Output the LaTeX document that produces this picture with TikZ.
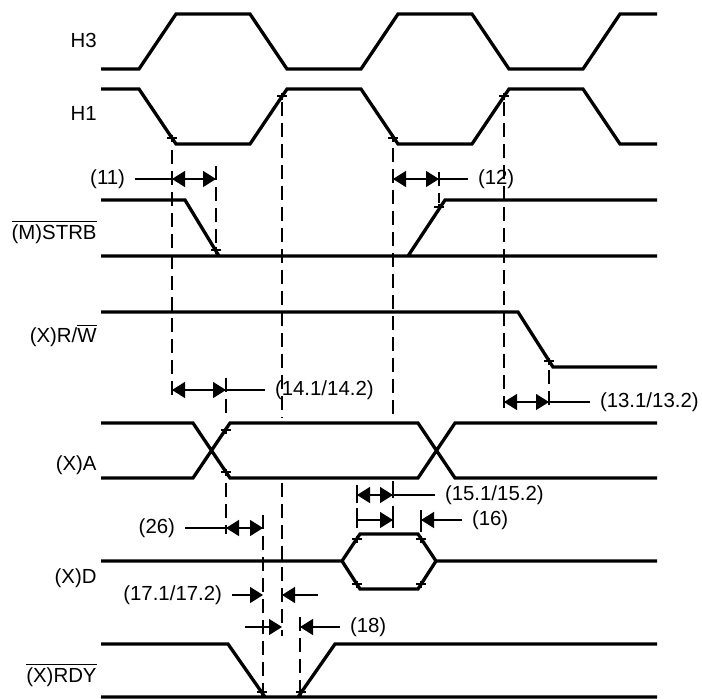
\documentclass[tikz,border=0pt]{standalone}
\usepackage{fontspec}
\setmainfont{Liberation Sans}
\usetikzlibrary{arrows.meta}
\begin{document}
\begin{tikzpicture}[x=.5pt,y=-.5pt,
  wave/.style={line width=1.65pt},
  guide/.style={line width=.95pt,dash pattern=on 7pt off 3.5pt},
  ext/.style={line width=.95pt},
  dim/.style={line width=.7pt},
  tip/.style={-{Triangle[length=6.5pt,width=8pt]}},
  twotip/.style={{Triangle[length=6.5pt,width=8pt]}-{Triangle[length=6.5pt,width=8pt]}},
  crossmark/.style={line width=1.2pt},
  sig/.style={anchor=base east,inner sep=0pt,font=\fontsize{10.2}{12}\selectfont},
  val/.style={inner sep=0pt,outer sep=5pt,font=\fontsize{10.2}{12}\selectfont}]
  \useasboundingbox (0,0) rectangle (702,698);
  % tick points on the edges
  \coordinate (T1) at (172,138); \coordinate (T2) at (282,96); \coordinate (T3) at (393,138); \coordinate (T4) at (504,96); \coordinate (S1) at (216,250); \coordinate (S2) at (439,207); \coordinate (W1) at (549,361);
  \coordinate (A1) at (226,430); \coordinate (A2) at (226,472); \coordinate (D1) at (357,539); \coordinate (D2) at (421,539); \coordinate (D3) at (357,584); \coordinate (D4) at (421,584); \coordinate (R1) at (262,692); \coordinate (R2) at (301,692);
  % waveforms
  \draw[wave] (101,69)--(139,69)--(176,14)--(250,14)--(287,69)--(361,69)--(398,14)--(472,14)--(509,69)--(583,69)--(620,14)--(657,14);
  \draw[wave] (101,89)--(139,89)--(176,144)--(250,144)--(287,89)--(361,89)--(398,144)--(472,144)--(509,89)--(583,89)--(620,144)--(657,144);
  \draw[wave] (101,200)--(185,200)--(219,256) (101,256)--(657,256) (408,256)--(445,200)--(657,200);
  \draw[wave] (101,312)--(518,312)--(553,367)--(657,367);
  \draw[wave] (101,423)--(193,423)--(230,478)--(418,478)--(455,423)--(657,423) (101,478)--(193,478)--(230,423)--(418,423)--(455,478)--(657,478);
  \draw[wave] (101,561)--(342,561)--(360,534)--(418,534)--(436,561)--(657,561) (342,561)--(360,589)--(418,589)--(436,561);
  \draw[wave] (101,644)--(228,644)--(265,697)--(298,697)--(335,644)--(657,644) (101,697)--(657,697);
  \foreach \p in {T1,T2,T3,T4,S1,S2,W1,A1,A2,D1,D2,D3,D4,R1,R2}
    \draw[crossmark] (\p) +(-5,0) -- +(5,0) +(0,-3.5) -- +(0,3.5);
  % dashed guides
  \draw[guide] (172,150)--(172,396) (282,102)--(282,418) (282,483)--(282,636) (216,166)--(216,246) (393,148)--(393,420) (439,172)--(439,203);
  \draw[guide] (504,102)--(504,408) (549,370)--(549,408) (226,378)--(226,420) (226,483)--(226,534) (263,515)--(263,697) (300,617)--(300,697);
  \draw[ext] (357,485)--(357,503) (357,508)--(357,528) (393,481)--(393,498) (393,506)--(393,528) (421,510)--(421,532);
  % signal names
  \node[sig] (nH3) at (97,47) {H3};
  \node[sig] (nH1) at (97,120) {H1};
  \node[sig] (nSTRB) at (97,239) {$\overline{\mbox{(M)STRB}}$};
  \node[sig] (nRW) at (97,342) {(X)R/$\overline{\mbox{W}}$};
  \node[sig] (nA) at (97,470) {(X)A};
  \node[sig] (nD) at (97,583) {(X)D};
  \node[sig] (nRDY) at (97,682) {$\overline{\mbox{(X)RDY}}$};
  % timing parameters
  \node[val,anchor=east] (p11) at (135,179) {(11)};
  \draw[dim] (p11)--(172,179); \draw[dim,twotip] (172,179)--(216,179);
  \node[val,anchor=west] (p12) at (468,179) {(12)};
  \draw[dim,twotip] (393,179)--(439,179); \draw[dim] (439,179)--(p12);
  \node[val,anchor=west] (p14) at (265,390) {(14.1/14.2)};
  \draw[dim,twotip] (172,390)--(226,390); \draw[dim] (226,390)--(p14);
  \node[val,anchor=west] (p13) at (590,402) {(13.1/13.2)};
  \draw[dim,twotip] (504,402)--(549,402); \draw[dim] (549,402)--(p13);
  \node[val,anchor=west] (p15) at (435,495) {(15.1/15.2)};
  \draw[dim,twotip] (357,495)--(393,495); \draw[dim] (393,495)--(p15);
  \node[val,anchor=west] (p16) at (462,520) {(16)};
  \draw[dim,tip] (357,520)--(393,520); \draw[dim,tip] (p16)--(421,520);
  \node[val,anchor=east] (p26) at (185,528) {(26)};
  \draw[dim] (p26)--(226,528); \draw[dim,twotip] (226,528)--(263,528);
  \node[val,anchor=east] (p17) at (232,595) {(17.1/17.2)};
  \draw[dim,tip] (p17)--(263,595); \draw[dim,tip] (318,595)--(282,595);
  \node[val,anchor=west] (p18) at (340,627) {(18)};
  \draw[dim,tip] (245,627)--(282,627); \draw[dim,tip] (p18)--(300,627);
\end{tikzpicture}
\end{document}
